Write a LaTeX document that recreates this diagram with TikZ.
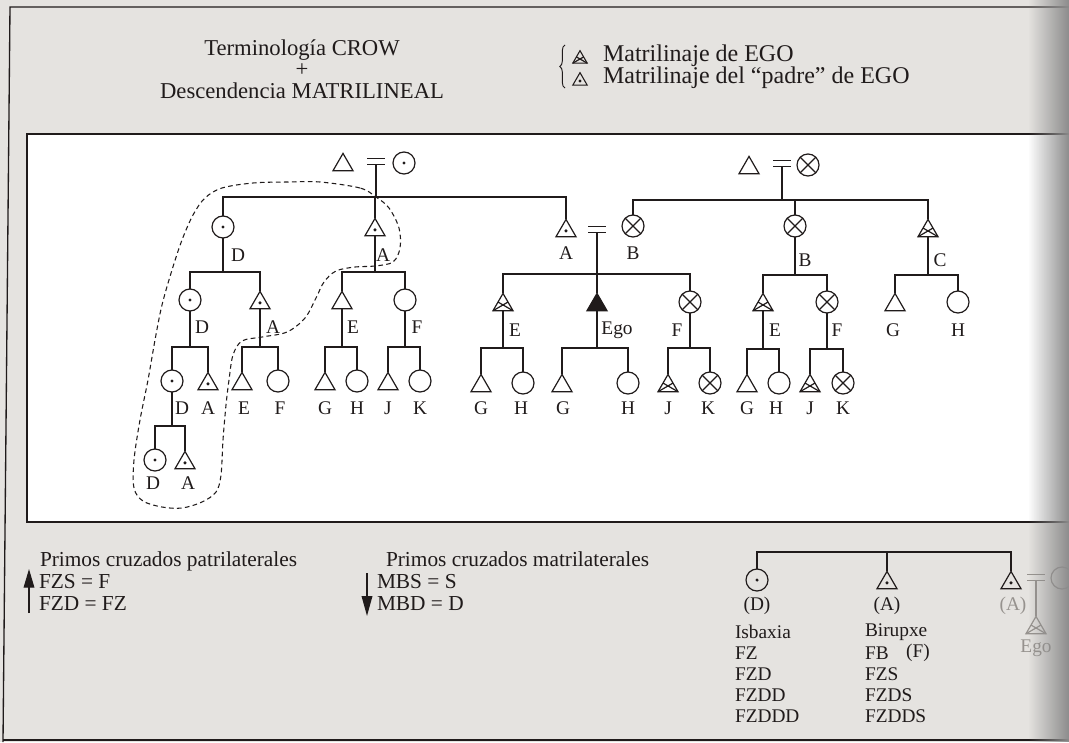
\documentclass[tikz,border=0pt]{standalone}
\usepackage{fontspec}
\setmainfont{Liberation Serif}
\usetikzlibrary{shapes.geometric,arrows.meta,calc,decorations.pathreplacing,fadings}
\definecolor{paper}{RGB}{229,227,224}
\definecolor{ink}{RGB}{32,27,27}
\definecolor{faded}{RGB}{150,146,142}
\tikzfading[name=fadeL, left color=transparent!100, right color=transparent!0]
\newcommand\kinfam[4]{%
  \coordinate (s-#1) at (#1.south |- 0,#4);
  \draw[ln] (#1.south) -- (s-#1);
  \draw[ln] (#2.north) |- (s-#1) -| (#3.north);
}
\begin{document}
\begin{tikzpicture}[x=0.75pt,y=-0.75pt,
  every node/.style={inner sep=0pt,outer sep=0pt,text=ink},
  ln/.style={draw=ink,line width=0.9pt},
  fem/.style={circle,draw=ink,line width=0.9pt,minimum size=16.5pt,fill=white},
  mal/.style={regular polygon,regular polygon sides=3,draw=ink,line width=0.9pt,minimum size=17.3pt,yshift=-2.2pt,fill=white},
  smal/.style={regular polygon,regular polygon sides=3,draw=ink,line width=0.8pt,minimum size=12.5pt,yshift=-1.5pt},
  blk/.style={mal,fill=ink},
  eqs/.style={minimum width=13.5pt,minimum height=5pt},
  lab/.style={font=\fontsize{14.5}{16}\selectfont},
  big/.style={font=\fontsize{17}{20}\selectfont},
  leg/.style={font=\fontsize{18}{20}\selectfont},
  low/.style={font=\fontsize{16}{18}\selectfont,text height=11pt,text depth=2.5pt},
]
% background and frames
\fill[paper] (0,0) rectangle (1069,742);
\useasboundingbox (0,0) rectangle (1069,742);
\fill[white] (27,134) rectangle (1069,522);
\draw[ink,line width=1.1pt] (1069,134) -- (27,134) -- (27,522) -- (1069,522);
\draw[ink,line width=1pt] (1069,7) -- (10,7) -- (3,742);
\draw[ink,line width=1pt] (3,740) -- (1069,740);

% title
\node[big] (t1) at (302,50) {Terminología CROW};
\node[big] (t2) at (302,70) {+};
\node[big] (t3) at (302,91) {Descendencia MATRILINEAL};

% legend
\coordinate (brA) at (565,88);
\coordinate (brB) at (565,45);
\draw[ink,line width=0.7pt,decorate,decoration={brace,amplitude=4pt}] (brA) -- (brB);
\node[smal] (g1) at (580,57) {};
\node[smal] (g2) at (580,79) {};
\node[leg,anchor=west] (lg1) at (603,56) {Matrilinaje de EGO};
\node[leg,anchor=west] (lg2) at (603,78) {Matrilinaje del “padre” de EGO};

% couples
\node[mal] (fL) at (343,162) {};
\node[eqs] (eqL) at (376,161.5) {};
\node[fem] (wL) at (404,163) {};
\node[mal] (fR) at (749,165) {};
\node[eqs] (eqR) at (782,163.5) {};
\node[fem] (wR) at (808,165) {};

% row 1
\node[fem] (a1) at (223,227) {};
\node[mal] (a2) at (375,227) {};
\node[mal] (a3) at (566,228) {};
\node[eqs] (eqM) at (597,229.5) {};
\node[fem] (b1) at (633,226) {};
\node[fem] (b2) at (795,226) {};
\node[mal] (b3) at (928,228) {};

% row 2
\node[fem] (a11) at (190,300) {};
\node[mal] (a12) at (260,300) {};
\node[mal] (a21) at (342,300) {};
\node[fem] (a22) at (405,300) {};
\node[mal] (m1) at (503,302) {};
\node[blk] (m2) at (597,302) {};
\node[fem] (m3) at (690,302) {};
\node[mal] (b21) at (763,302) {};
\node[fem] (b22) at (827,302) {};
\node[mal] (b31) at (895,302) {};
\node[fem] (b32) at (958,302) {};

% row 3
\node[fem] (a111) at (172,381) {};
\node[mal] (a112) at (208,381) {};
\node[mal] (a121) at (242,381) {};
\node[fem] (a122) at (278,381) {};
\node[mal] (a211) at (325,381) {};
\node[fem] (a212) at (357,381) {};
\node[mal] (a221) at (388,381) {};
\node[fem] (a222) at (420,381) {};
\node[mal] (m11) at (481,383) {};
\node[fem] (m12) at (523,383) {};
\node[mal] (m21) at (562,383) {};
\node[fem] (m22) at (628,383) {};
\node[mal] (m31) at (668,383) {};
\node[fem] (m32) at (710,383) {};
\node[mal] (b211) at (747,383) {};
\node[fem] (b212) at (779,383) {};
\node[mal] (b221) at (810,383) {};
\node[fem] (b222) at (843,383) {};

% row 4
\node[fem] (a1111) at (155,460) {};
\node[mal] (a1112) at (185,460) {};

% marriage signs
\foreach \e in {eqL,eqM,eqR}
  \draw[ln] (\e.north west) -- (\e.north east) (\e.south west) -- (\e.south east);

% descent lines
\coordinate (sL) at (eqL.south |- 0,197);
\draw[ln] (eqL.south) -- (sL);
\draw[ln] (a1.north) |- (a3.north |- sL) -- (a3.north);
\draw[ln] (a2.north) -- (a2.north |- sL);
\coordinate (sR) at (eqR.south |- 0,200);
\draw[ln] (eqR.south) -- (sR);
\draw[ln] (b1.north) |- (b3.north |- sR) -- (b3.north);
\draw[ln] (b2.north) -- (b2.north |- sR);
\coordinate (sM) at (eqM.south |- 0,274);
\draw[ln] (eqM.south) -- (m2.north);
\draw[ln] (m1.north) |- (sM) -| (m3.north);
\kinfam{a1}{a11}{a12}{272}
\kinfam{a2}{a21}{a22}{272}
\kinfam{a11}{a111}{a112}{347}
\kinfam{a12}{a121}{a122}{347}
\kinfam{a21}{a211}{a212}{347}
\kinfam{a22}{a221}{a222}{347}
\kinfam{m1}{m11}{m12}{348}
\kinfam{m2}{m21}{m22}{348}
\kinfam{m3}{m31}{m32}{348}
\kinfam{b2}{b21}{b22}{275}
\kinfam{b3}{b31}{b32}{275}
\kinfam{b21}{b211}{b212}{349}
\kinfam{b22}{b221}{b222}{349}
\kinfam{a111}{a1111}{a1112}{426}

% labels
\foreach \x/\y/\t [count=\i] in {238/255/D,383/255/A,566/253/A,633/253/B,805/260/B,940/260/C,
  202/327/D,273/327/A,353/327/E,417/327/F,515/330/E,617/330/Ego,677/330/F,775/330/E,837/330/F,893/330/G,958/330/H,
  182/408/D,208/408/A,244/408/E,280/408/F,325/408/G,357/408/H,388/408/J,420/408/K,481/408/G,521/408/H,
  563/408/G,628/408/H,668/408/J,708/408/K,747/408/G,776/408/H,810/408/J,843/408/K,153/483/D,188/483/A}
  \node[lab] (L\i) at (\x,\y) {\t};

% dashed enclosure
\draw[ink,line width=0.8pt,dash pattern=on 3.5pt off 2.5pt] plot[smooth cycle,tension=0.55] coordinates {
 (376,197) (360,188) (320,182) (287,182) (253,183) (222,188) (205,198) (193,215) (182,240) (172,270)
 (162,305) (155,340) (148,380) (140,420) (134,460) (134,488) (143,501) (162,507) (182,508) (202,502)
 (216,492) (221,475) (223,440) (226,405) (229,380) (233,355) (242,341) (262,337) (287,332) (305,318)
 (316,298) (324,282) (336,271) (355,267) (375,266) (393,262) (400,248) (399,228) (389,208)};

% bottom left
\node[low,anchor=west] (p1) at (40,561) {Primos cruzados patrilaterales};
\node[low,anchor=west] (p2) at (39,583) {FZS = F};
\node[low,anchor=west] (p3) at (39,605) {FZD = FZ};
\coordinate (ua) at (29,613);
\coordinate (ub) at (29,569);
\draw[ink,line width=1pt,-{Triangle[width=8pt,length=14pt]}] (ua) -- (ub);
\node[low,anchor=west] (q1) at (386,561) {Primos cruzados matrilaterales};
\node[low,anchor=west] (q2) at (377,583) {MBS = S};
\node[low,anchor=west] (q3) at (377,605) {MBD = D};
\coordinate (da) at (367,573);
\coordinate (db) at (367,616);
\draw[ink,line width=1pt,-{Triangle[width=8pt,length=15pt]}] (da) -- (db);

% bottom right tree
\node[fem,fill=paper] (r1) at (757,580) {};
\node[mal,fill=paper] (r2) at (887,580) {};
\node[mal,fill=paper] (r3) at (1011,580) {};
\coordinate (rs) at (r1.north |- 0,552);
\draw[ln] (r1.north) -- (rs) -| (r3.north);
\draw[ln] (r2.north) -- (r2.north |- rs);
\node[lab] (rD) at (757,606) {(D)};
\node[lab] (rA) at (887,606) {(A)};
\node[lab,text=faded] (rA2) at (1013,606) {(A)};
\foreach \t [count=\i] in {Isbaxia,FZ,FZD,FZDD,FZDDD}
  \node[lab,anchor=west] (c1\i) at (735,611+21*\i) {\t};
\foreach \t [count=\i] in {Birupxe,FB,FZS,FZDS,FZDDS}
  \node[lab,anchor=west] (c2\i) at (865,611+21*\i) {\t};
\node[lab] (cF) at (918,653) {(F)};
% faded continuation
\node[eqs] (eqF) at (1036,577.5) {};
\draw[faded,line width=0.9pt] (eqF.north west) -- (eqF.north east) (eqF.south west) -- (eqF.south east);
\node[circle,draw=faded,line width=0.9pt,minimum size=16.5pt] (wF) at (1062,578) {};
\node[regular polygon,regular polygon sides=3,draw=faded,line width=0.9pt,minimum size=17.3pt,yshift=-2.2pt] (eF) at (1036,625) {};
\draw[faded,line width=0.9pt] (eqF.south) -- (eF.north);
\draw[faded,line width=0.9pt] (eF.corner 2) -- ($(eF.corner 1)!0.5!(eF.corner 3)$) (eF.corner 3) -- ($(eF.corner 1)!0.5!(eF.corner 2)$);
\node[lab,text=faded] (eL) at (1036,648) {Ego};

% symbol marks
\foreach \n in {wL,a1,a2,a3,a11,a12,a111,a112,a1111,a1112,g2,r1,r2,r3}
  \fill[ink] (\n.center) circle (1.3pt);
\foreach \n in {wR,b1,b2,b22,m3,m32,b222}
  \draw[ln] (\n.north east) -- (\n.south west) (\n.north west) -- (\n.south east);
\foreach \n in {b3,m1,m31,b21,b221,g1}
  \draw[ln] (\n.corner 2) -- ($(\n.corner 1)!0.5!(\n.corner 3)$) (\n.corner 3) -- ($(\n.corner 1)!0.5!(\n.corner 2)$);

% page shadow at right
\fill[black!45,path fading=fadeL] (1028,0) rectangle (1069,742);
\end{tikzpicture}
\end{document}
